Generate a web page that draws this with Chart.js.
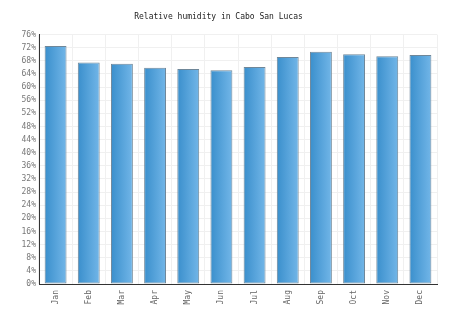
<!DOCTYPE html>
<html>
<head>
<meta charset="utf-8">
<script src="https://cdn.jsdelivr.net/npm/chart.js@4/dist/chart.umd.min.js"></script>
<style>
  html, body { margin: 0; padding: 0; background: #fff; }
  #wrap { width: 474px; height: 322px; }
</style>
</head>
<body>
<div id="wrap"><canvas id="c" width="474" height="322"></canvas></div>
<script>
const MONTHS = ['Jan', 'Feb', 'Mar', 'Apr', 'May', 'Jun', 'Jul', 'Aug', 'Sep', 'Oct', 'Nov', 'Dec'];
const HUMIDITY = [72.5, 67.5, 67.1, 65.9, 65.5, 65.1, 66.1, 69.2, 70.8, 70.0, 69.4, 69.8];
const Y_MAX = 76;
const Y_STEP = 4;

const FONT = '"DejaVu Sans Mono", monospace';
const BAR_PCT = 0.66;

// left-to-right gradient per bar, dark blue to light blue
function barGradient(ctx) {
  const chart = ctx.chart;
  const xs = chart.scales.x;
  if (!xs || ctx.dataIndex === undefined) return '#4a9fd8';
  const cx = xs.getPixelForValue(ctx.dataIndex);
  const half = (xs.width / MONTHS.length) * BAR_PCT / 2;
  if (!isFinite(cx) || !isFinite(half) || half <= 0) return '#4a9fd8';
  const g = chart.ctx.createLinearGradient(cx - half, 0, cx + half, 0);
  g.addColorStop(0, '#3a8fcc');
  g.addColorStop(1, '#72b6e8');
  return g;
}

new Chart(document.getElementById('c'), {
  type: 'bar',
  data: {
    labels: MONTHS,
    datasets: [{
      label: 'Relative humidity',
      data: HUMIDITY,
      backgroundColor: barGradient,
      borderColor: '#6f8799',
      borderWidth: 1,
      borderSkipped: false,
      barPercentage: BAR_PCT,
      categoryPercentage: 1,
    }],
  },
  options: {
    responsive: false,
    animation: false,
    devicePixelRatio: 1,
    layout: { padding: { left: 0, right: 37, top: 0, bottom: 0 } },
    plugins: {
      legend: { display: false },
      tooltip: { enabled: false },
      title: {
        display: true,
        text: 'Relative humidity in Cabo San Lucas',
        color: '#222',
        font: { family: FONT, size: 8, weight: 'normal', lineHeight: 1.2 },
        padding: { top: 12, bottom: 13 },
      },
    },
    scales: {
      x: {
        grid: { color: '#f0f0f0', offset: true, drawTicks: false },
        border: { color: '#333', width: 1 },
        ticks: {
          color: '#666',
          font: { family: FONT, size: 8 },
          maxRotation: 90,
          minRotation: 90,
          autoSkip: false,
          padding: 6,
        },
        afterFit(scale) { scale.height = 38; },
      },
      y: {
        min: 0,
        max: Y_MAX,
        grid: { color: '#f0f0f0', drawTicks: false },
        border: { color: '#333', width: 1 },
        ticks: {
          stepSize: Y_STEP,
          autoSkip: false,
          color: '#777',
          font: { family: FONT, size: 8 },
          padding: 3,
          callback: (v) => v + '%',
        },
        afterFit(scale) { scale.width = 39; },
      },
    },
  },
});
</script>
</body>
</html>
